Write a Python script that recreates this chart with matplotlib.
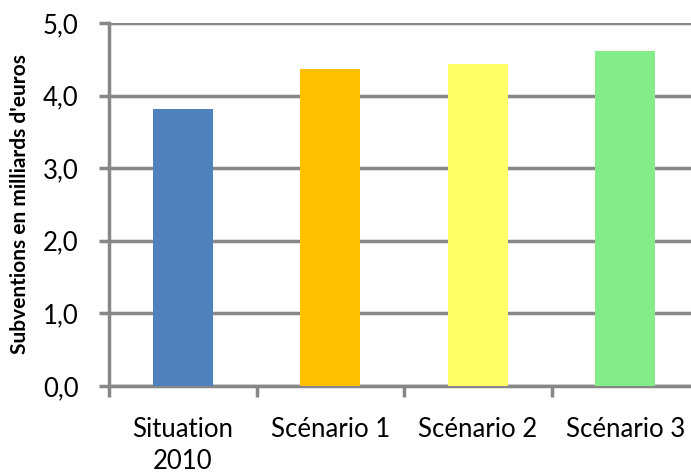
import matplotlib

matplotlib.use("Agg")
import matplotlib.pyplot as plt
import numpy as np

categories = ["Situation\n2010", "Scénario 1", "Scénario 2", "Scénario 3"]
values = [3.82, 4.37, 4.44, 4.62]
colors = ["#4f81bd", "#ffc000", "#ffff66", "#85ec8a"]
yticks = [0.0, 1.0, 2.0, 3.0, 4.0, 5.0]
ytick_labels = ["0,0", "1,0", "2,0", "3,0", "4,0", "5,0"]

plt.rcParams["font.family"] = ["Lato", "DejaVu Sans"]
grey = "#878787"

fig = plt.figure(figsize=(6.91, 4.73), dpi=100)
ax = fig.add_axes([109 / 691, 1 - 386 / 473, 590 / 691, 363 / 473])

x = np.arange(len(categories))
ax.bar(x, values, width=0.41, color=colors, zorder=3)

ax.set_xlim(-0.5, len(categories) - 0.5)
ax.set_ylim(0, 5)
ax.set_yticks(yticks)
ax.set_yticklabels(ytick_labels, fontsize=18.5)
ax.set_xticks(x)
ax.set_xticklabels(categories, fontsize=18.5, linespacing=1.35)
ax.set_xticks(np.arange(len(categories)) - 0.5, minor=True)

ax.yaxis.grid(True, color=grey, linewidth=2.5, zorder=0)
ax.set_axisbelow(True)
for side in ["top", "right"]:
    ax.spines[side].set_visible(False)
for side in ["left", "bottom"]:
    ax.spines[side].set_color(grey)
    ax.spines[side].set_linewidth(2.5)

ax.tick_params(axis="y", length=7, width=2.5, color=grey, pad=15)
ax.tick_params(axis="x", which="major", length=0, pad=22)
ax.tick_params(axis="x", which="minor", length=8, width=2.5, color=grey)

ax.set_ylabel("Subventions en milliards d'euros", fontsize=15,
              fontweight="bold", labelpad=9)

plt.savefig("out.png")
